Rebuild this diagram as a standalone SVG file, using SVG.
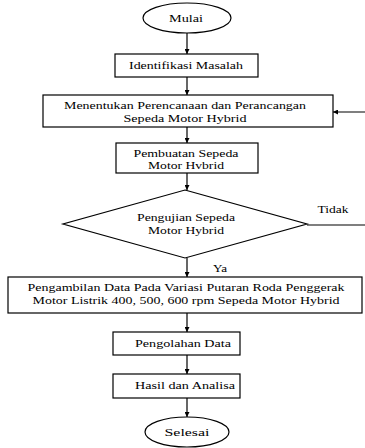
<svg xmlns="http://www.w3.org/2000/svg" width="365" height="448" viewBox="0 0 365 448">
<defs>
<marker id="ah" viewBox="0 0 10 10" refX="10" refY="5" markerWidth="5" markerHeight="5" markerUnits="userSpaceOnUse" orient="auto">
<path d="M0,0 L10,5 L0,10 z" fill="#000"/>
</marker>
<style>
.s{fill:#fff;stroke:#000;stroke-width:1.2}
.t{font-family:'Liberation Serif','DejaVu Serif',serif;font-size:11px;fill:#000;text-anchor:middle}
.c{fill:none;stroke:#000;stroke-width:1.2}
</style>
</defs>
<rect width="365" height="448" fill="#fff"/>
<g id="connectors">
<line class="c" x1="187" y1="33" x2="187" y2="54" marker-end="url(#ah)"/>
<line class="c" x1="187" y1="77" x2="187" y2="95" marker-end="url(#ah)"/>
<line class="c" x1="187" y1="127" x2="187" y2="143" marker-end="url(#ah)"/>
<line class="c" x1="187" y1="173" x2="187" y2="190" marker-end="url(#ah)"/>
<line class="c" x1="187" y1="258" x2="187" y2="277" marker-end="url(#ah)"/>
<line class="c" x1="187" y1="313" x2="187" y2="332" marker-end="url(#ah)"/>
<line class="c" x1="187" y1="355" x2="187" y2="374" marker-end="url(#ah)"/>
<line class="c" x1="187" y1="398" x2="187" y2="417" marker-end="url(#ah)"/>
<line class="c" x1="307" y1="225" x2="366" y2="225"/>
<line class="c" x1="366" y1="112" x2="333" y2="112" marker-end="url(#ah)"/>
<text class="t" x="333" y="213" textLength="31" lengthAdjust="spacingAndGlyphs">Tidak</text>
<text class="t" x="220" y="272" textLength="14" lengthAdjust="spacingAndGlyphs">Ya</text>
</g>
<g id="mulai">
<ellipse class="s" cx="187" cy="18" rx="44" ry="15"/>
<text class="t" x="186" y="22" textLength="34" lengthAdjust="spacingAndGlyphs">Mulai</text>
</g>
<g id="identifikasi">
<rect class="s" x="115" y="54" width="143" height="23"/>
<text class="t" x="186" y="69" textLength="114" lengthAdjust="spacingAndGlyphs">Identifikasi Masalah</text>
</g>
<g id="menentukan">
<rect class="s" x="43" y="95" width="290" height="32"/>
<text class="t" x="185" y="109" textLength="242" lengthAdjust="spacingAndGlyphs">Menentukan Perencanaan dan Perancangan</text>
<text class="t" x="185" y="122" textLength="123" lengthAdjust="spacingAndGlyphs">Sepeda Motor Hybrid</text>
</g>
<g id="pembuatan">
<rect class="s" x="116" y="143" width="142" height="30"/>
<text class="t" x="186" y="157" textLength="105" lengthAdjust="spacingAndGlyphs">Pembuatan Sepeda</text>
<text class="t" x="186" y="169" textLength="76" lengthAdjust="spacingAndGlyphs">Motor Hvbrid</text>
</g>
<g id="pengujian">
<polygon class="s" points="185,190 307,224 185,258 63,224"/>
<text class="t" x="186" y="221" textLength="98" lengthAdjust="spacingAndGlyphs">Pengujian Sepeda</text>
<text class="t" x="186" y="234" textLength="76" lengthAdjust="spacingAndGlyphs">Motor Hybrid</text>
</g>
<g id="pengambilan">
<rect class="s" x="8" y="277" width="354" height="36"/>
<text class="t" x="186" y="291" textLength="317" lengthAdjust="spacingAndGlyphs">Pengambilan Data Pada Variasi Putaran Roda Penggerak</text>
<text class="t" x="186" y="304" textLength="307" lengthAdjust="spacingAndGlyphs">Motor Listrik 400, 500, 600 rpm Sepeda Motor Hybrid</text>
</g>
<g id="pengolahan">
<rect class="s" x="113" y="332" width="127" height="23"/>
<text class="t" x="183" y="347" textLength="96" lengthAdjust="spacingAndGlyphs">Pengolahan Data</text>
</g>
<g id="hasil">
<rect class="s" x="113" y="374" width="127" height="24"/>
<text class="t" x="185" y="389" textLength="100" lengthAdjust="spacingAndGlyphs">Hasil dan Analisa</text>
</g>
<g id="selesai">
<ellipse class="s" cx="187" cy="432" rx="42" ry="15"/>
<text class="t" x="187" y="436" textLength="45" lengthAdjust="spacingAndGlyphs">Selesai</text>
</g>
</svg>
